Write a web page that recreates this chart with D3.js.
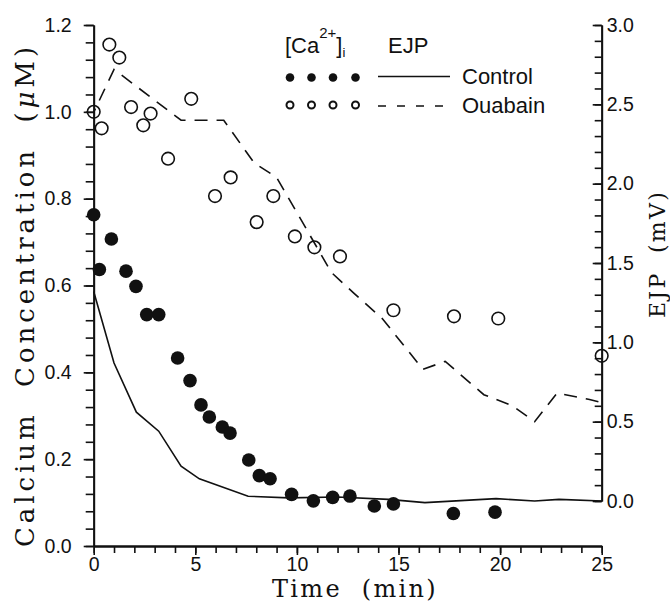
<!DOCTYPE html>
<html>
<head>
	<meta charset="utf-8">
	<title>Calcium and EJP vs time</title>
	<style>
		body {
			margin: 0;
			background: #fff;
		}
		svg {
			display: block;
		}
		.tick text {
			font-family: 'Liberation Sans', Arial, sans-serif;
			font-size: 19.5px;
			fill: #111;
		}
		.title {
			font-family: 'DejaVu Serif', serif;
			fill: #111;
		}
		.legend {
			font-family: 'Liberation Sans', Arial, sans-serif;
			font-size: 22px;
			fill: #111;
		}
	</style>
</head>
<body>
	<svg width='670' height='602'></svg>
<script src='https://d3js.org/d3.v7.min.js'></script>
<script>
	// [Ca2+]i, ouabain (open circles) - left axis, uM
	let ouabainCaTime = [0, 0.39, 0.77, 1.26, 1.84, 2.44, 2.8, 3.66, 4.8, 5.97, 6.74, 8.02, 8.84, 9.9, 10.86, 12.12, 14.75, 17.73, 19.91, 25]
	let ouabainCa = [1.00, 0.962, 1.155, 1.125, 1.011, 0.969, 0.996, 0.892, 1.030, 0.806, 0.849, 0.746, 0.806, 0.713, 0.688, 0.667, 0.543, 0.529, 0.524, 0.438]

	// [Ca2+]i, control (filled circles)
	let controlCaTime = [0, 0.28, 0.87, 1.59, 2.08, 2.61, 3.2, 4.13, 4.74, 5.28, 5.69, 6.33, 6.71, 7.63, 8.15, 8.68, 9.74, 10.81, 11.76, 12.61, 13.81, 14.75, 17.7, 19.75]
	let controlCa = [0.763, 0.637, 0.707, 0.633, 0.598, 0.533, 0.533, 0.433, 0.381, 0.325, 0.297, 0.274, 0.260, 0.198, 0.162, 0.155, 0.119, 0.104, 0.112, 0.115, 0.092, 0.097, 0.075, 0.078]

	// EJP, control (solid line) - right axis, mV
	let controlEjpTime = [0, 1.0, 2.1, 3.2, 4.3, 5.2, 7.6, 9.6, 12.0, 14.5, 16.3, 19.8, 21.7, 22.9, 25]
	let controlEjp = [1.32, 0.87, 0.56, 0.44, 0.22, 0.14, 0.03, 0.02, 0.025, 0.01, -0.01, 0.015, 0.0, 0.01, 0.0]

	// EJP, ouabain (dashed line)
	let ouabainEjpTime = [0, 1.0, 4.3, 6.4, 7.9, 9.0, 11.7, 12.8, 14.2, 16.2, 17.3, 19.2, 20.6, 21.7, 22.8, 24.4, 25]
	let ouabainEjp = [2.45, 2.72, 2.40, 2.40, 2.13, 2.04, 1.44, 1.31, 1.15, 0.83, 0.88, 0.67, 0.60, 0.50, 0.68, 0.64, 0.62]

	// ticks
	let xTicks = [0, 5, 10, 15, 20, 25]
	let xMinor = d3.range(0, 26, 1)
	let caTicks = [0, 0.2, 0.4, 0.6, 0.8, 1.0, 1.2]
	let caMinor = d3.range(0, 1.201, 0.04)
	let ejpTicks = [0, 0.5, 1.0, 1.5, 2.0, 2.5, 3.0]
	let ejpMinor = d3.range(0, 3.001, 0.1)

	let svg = d3.select('svg')

	let x = d3.scaleLinear().domain([0, 25]).range([93.7, 601.7])
	let yCa = d3.scaleLinear().domain([0, 1.2]).range([546, 25])
	let yEjp = d3.scaleLinear().domain([0, 3]).range([501, 25])

	function styleAxis(g) {
		g.selectAll('path, line')
			.attr('stroke', '#111')
			.attr('stroke-width', 1.6)
		g.select('.domain').attr('stroke-width', 1.8)
	}

	// minor ticks first, majors over them
	svg.append('g')
		.attr('transform', 'translate(0,546)')
		.call(d3.axisBottom(x).tickValues(xMinor).tickSize(7).tickSizeOuter(0).tickFormat(''))
		.call(styleAxis)
	svg.append('g')
		.attr('transform', 'translate(0,546)')
		.call(d3.axisBottom(x).tickValues(xTicks).tickSize(9).tickSizeOuter(0).tickPadding(2))
		.call(styleAxis)

	svg.append('g')
		.attr('transform', 'translate(93.7,0)')
		.call(d3.axisLeft(yCa).tickValues(caMinor).tickSize(8).tickSizeOuter(0).tickFormat(''))
		.call(styleAxis)
	svg.append('g')
		.attr('transform', 'translate(93.7,0)')
		.call(d3.axisLeft(yCa).tickValues(caTicks).tickSize(10).tickSizeOuter(0).tickPadding(12).tickFormat(d3.format('.1f')))
		.call(styleAxis)

	// right axis, ticks point inward
	svg.append('g')
		.attr('transform', 'translate(601.7,0)')
		.call(d3.axisRight(yEjp).tickValues(ejpMinor).tickSize(-7).tickSizeOuter(0).tickFormat(''))
		.call(styleAxis)
	svg.append('g')
		.attr('transform', 'translate(601.7,0)')
		.call(d3.axisRight(yEjp).tickValues(ejpTicks).tickSize(-9).tickSizeOuter(0).tickPadding(5).tickFormat(d3.format('.1f')))
		.call(styleAxis)

	// EJP lines
	let ejpLine = d3.line()
		.x(d => x(d[0]))
		.y(d => yEjp(d[1]))

	svg.append('path')
		.datum(d3.zip(controlEjpTime, controlEjp))
		.attr('d', ejpLine)
		.attr('fill', 'none')
		.attr('stroke', '#111')
		.attr('stroke-width', 1.6)

	svg.append('path')
		.datum(d3.zip(ouabainEjpTime, ouabainEjp))
		.attr('d', ejpLine)
		.attr('fill', 'none')
		.attr('stroke', '#111')
		.attr('stroke-width', 1.6)
		.attr('stroke-dasharray', '13,9')
		.attr('stroke-dashoffset', 9)

	// calcium points
	svg.append('g')
		.selectAll('circle')
		.data(d3.zip(ouabainCaTime, ouabainCa))
		.join('circle')
		.attr('cx', d => x(d[0]))
		.attr('cy', d => yCa(d[1]))
		.attr('r', 6.3)
		.attr('fill', 'none')
		.attr('stroke', '#111')
		.attr('stroke-width', 1.6)

	svg.append('g')
		.selectAll('circle')
		.data(d3.zip(controlCaTime, controlCa))
		.join('circle')
		.attr('cx', d => x(d[0]))
		.attr('cy', d => yCa(d[1]))
		.attr('r', 6.8)
		.attr('fill', '#111')

	// axis titles - stretch with letter-spacing to the width in the figure
	let gap = '\u00a0\u00a0'

	function fitText(t, target) {
		let node = t.node()
		let len = node.getComputedTextLength()
		let n = node.textContent.length
		t.attr('letter-spacing', Math.max(0, (target - len) / n))
	}

	svg.append('text')
		.attr('class', 'title')
		.attr('transform', 'translate(25,295) rotate(-90)')
		.attr('text-anchor', 'middle')
		.attr('dominant-baseline', 'central')
		.attr('font-size', 26)
		.text('Calcium' + gap + 'Concentration' + gap + '(')
		.call(t => t.append('tspan').attr('font-style', 'italic').text('μ'))
		.call(t => t.append('tspan').text('M)'))
		.call(t => fitText(t, 504))

	svg.append('text')
		.attr('class', 'title')
		.attr('x', 355)
		.attr('y', 597)
		.attr('text-anchor', 'middle')
		.attr('font-size', 24)
		.text('Time' + gap + '(min)')
		.call(t => fitText(t, 166))

	svg.append('text')
		.attr('class', 'title')
		.attr('transform', 'translate(657,254) rotate(-90)')
		.attr('text-anchor', 'middle')
		.attr('dominant-baseline', 'central')
		.attr('font-size', 22)
		.text('EJP' + gap + '(mV)')
		.call(t => fitText(t, 128))

	// legend
	let legendDots = [290, 311.5, 333, 355.5]
	let legend = svg.append('g')

	let caLabel = legend.append('text')
		.attr('class', 'legend')
		.attr('x', 285)
		.attr('y', 53)
	caLabel.append('tspan').text('[Ca')
	caLabel.append('tspan').attr('font-size', 15).attr('dy', -15).text('2+')
	caLabel.append('tspan').attr('dy', 15).text(']')
	caLabel.append('tspan').attr('font-size', 13).attr('dy', 4).text('i')

	legend.append('text')
		.attr('class', 'legend')
		.attr('x', 388)
		.attr('y', 53)
		.text('EJP')

	legend.selectAll('.ldot')
		.data(legendDots)
		.join('circle')
		.attr('class', 'ldot')
		.attr('cx', d => d)
		.attr('cy', 77.5)
		.attr('r', 4.3)
		.attr('fill', '#111')

	legend.selectAll('.lring')
		.data(legendDots)
		.join('circle')
		.attr('class', 'lring')
		.attr('cx', d => d)
		.attr('cy', 105)
		.attr('r', 3.5)
		.attr('fill', 'none')
		.attr('stroke', '#111')
		.attr('stroke-width', 2)

	legend.append('line')
		.attr('x1', 378).attr('x2', 450)
		.attr('y1', 76.5).attr('y2', 76.5)
		.attr('stroke', '#111')
		.attr('stroke-width', 1.6)

	legend.append('line')
		.attr('x1', 378).attr('x2', 450)
		.attr('y1', 106).attr('y2', 106)
		.attr('stroke', '#111')
		.attr('stroke-width', 1.6)
		.attr('stroke-dasharray', '8,11')

	legend.append('text')
		.attr('class', 'legend')
		.attr('x', 462)
		.attr('y', 84)
		.text('Control')

	legend.append('text')
		.attr('class', 'legend')
		.attr('x', 462)
		.attr('y', 113)
		.text('Ouabain')
</script>
</body>
</html>
